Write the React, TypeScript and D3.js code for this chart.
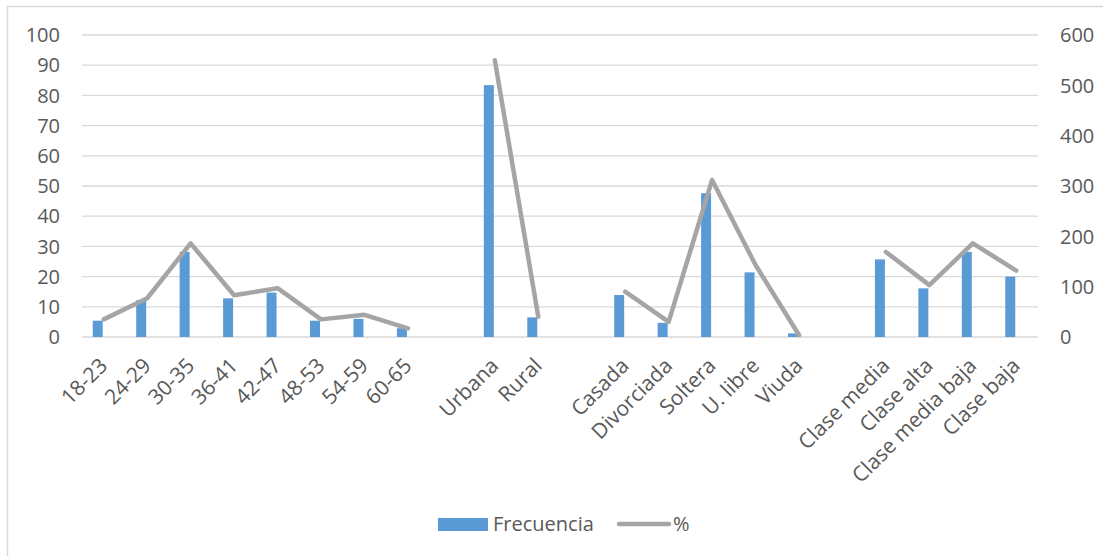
import React from "react";
import * as d3 from "d3";

const categories = [
  "18-23", "24-29", "30-35", "36-41", "42-47", "48-53", "54-59", "60-65", "",
  "Urbana", "Rural", "",
  "Casada", "Divorciada", "Soltera", "U. libre", "Viuda", "",
  "Clase media", "Clase alta", "Clase media baja", "Clase baja",
];
const frecuencia: (number | null)[] = [
  5.4, 12.2, 28.2, 12.8, 14.7, 5.4, 6.0, 2.9, null,
  83.4, 6.5, null,
  13.9, 4.7, 47.6, 21.4, 1.2, null,
  25.7, 16.1, 28.2, 20.0,
];
const porcentaje: (number | null)[] = [
  35, 77, 186, 83, 97, 35, 44, 17, null,
  550, 40, null,
  90, 30, 312, 143, 4, null,
  169, 103, 186, 132,
];
const leftTicks = [0, 10, 20, 30, 40, 50, 60, 70, 80, 90, 100];
const rightTicks = [0, 100, 200, 300, 400, 500, 600];

const W = 1103;
const H = 556;
const FONT = "'Open Sans', 'Noto Sans', sans-serif";
const TXT = "#595959";

export default function App() {
  const x0 = 82, x1 = 1038, yBottom = 337, yTop = 35;
  const x = d3.scaleBand<number>().domain(categories.map((_, i) => i)).range([x0, x1]).padding(0);
  const bw = x.bandwidth();
  const cx = (i: number) => (x(i) as number) + bw / 2;
  const yL = d3.scaleLinear().domain([0, 100]).range([yBottom, yTop]);
  const yR = d3.scaleLinear().domain([0, 600]).range([yBottom, yTop]);

  const line = d3
    .line<number | null>()
    .defined((d) => d != null)
    .x((_, i) => cx(i))
    .y((d) => yR(d as number));

  const barW = 10;

  return (
    <svg
      width={W}
      height={H}
      style={{ position: "absolute", left: 0, top: 0, background: "#fff" }}
      fontFamily={FONT}
    >
      <rect x={7.5} y={6.5} width={1200} height={700} fill="#fff" stroke="#D9D9D9" strokeWidth={1.5} />
      {leftTicks.map((t) => (
        <line key={"g" + t} x1={x0} x2={x1} y1={yL(t)} y2={yL(t)} stroke="#D9D9D9" strokeWidth={1.3} />
      ))}
      {leftTicks.map((t) => (
        <text key={"l" + t} x={60} y={yL(t)} dy="0.36em" textAnchor="end" fontSize={20} fill={TXT}>
          {t}
        </text>
      ))}
      {rightTicks.map((t) => (
        <text key={"r" + t} x={1060} y={yR(t)} dy="0.36em" textAnchor="start" fontSize={20} fill={TXT}>
          {t}
        </text>
      ))}
      {frecuencia.map((v, i) =>
        v == null ? null : (
          <rect key={"b" + i} x={cx(i) - barW - 1} y={yL(v)} width={barW} height={yBottom - yL(v)} fill="#5B9BD5" />
        )
      )}
      <path
        d={line(porcentaje) || ""}
        fill="none"
        stroke="#A5A5A5"
        strokeWidth={4.5}
        strokeLinejoin="round"
        strokeLinecap="round"
      />
      {categories.map((c, i) =>
        c ? (
          <text
            key={"c" + i}
            transform={`translate(${cx(i) + 5},${367}) rotate(-45)`}
            textAnchor="end"
            fontSize={21}
            fill={TXT}
          >
            {c}
          </text>
        ) : null
      )}
      <rect x={438} y={518} width={50} height={13} fill="#5B9BD5" />
      <text x={493} y={531} fontSize={20} fill={TXT}>Frecuencia</text>
      <line x1={619} x2={669} y1={524} y2={524} stroke="#A5A5A5" strokeWidth={4.5} strokeLinecap="round" />
      <text x={673} y={531} fontSize={20} fill={TXT}>%</text>
    </svg>
  );
}
